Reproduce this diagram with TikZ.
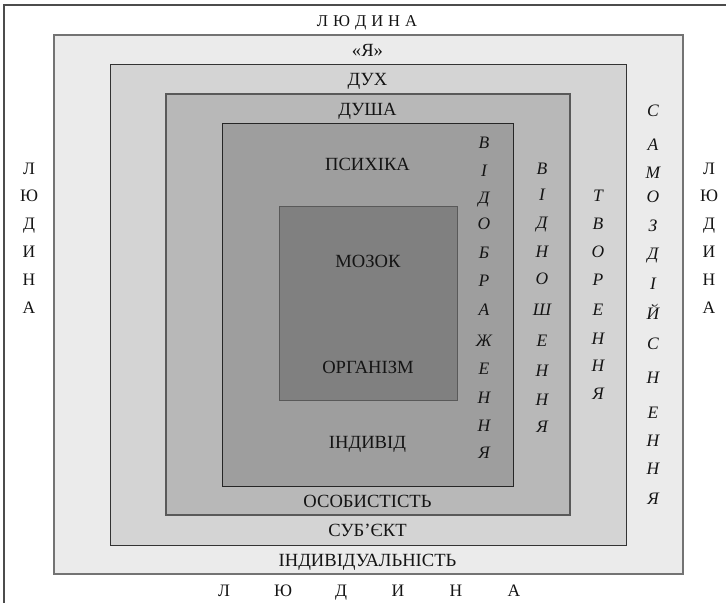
\documentclass[tikz,border=0pt]{standalone}
\usepackage{fontspec}
\setmainfont{Liberation Serif}
\begin{document}
\begin{tikzpicture}[x=1pt,y=-1pt,
  frame/.style={draw=black!70,line width=1.2pt},
  lvl1/.style={fill=black!8,draw=black!55,line width=1.2pt},
  lvl2/.style={fill=black!17,draw=black!80,line width=1pt},
  lvl3/.style={fill=black!28,draw=black!65,line width=1.2pt},
  lvl4/.style={fill=black!38,draw=black!85,line width=1pt},
  lvl5/.style={fill=black!50,draw=black!65,line width=1pt},
  lab/.style={font=\fontsize{18.6}{20}\selectfont,text=black!92,anchor=base,inner sep=0pt},
  vl/.style={font=\fontsize{17.5}{20}\selectfont,text=black!92,anchor=base,inner sep=0pt},
  vi/.style={font=\fontsize{17.5}{20}\selectfont\itshape,text=black!92,anchor=base,inner sep=0pt}]
\useasboundingbox (0,0) rectangle (726,603);
% outer frame (top and left edges)
\draw[frame] (726,5) -- (4,5) -- (4,603);
% nested boxes
\draw[lvl1] (54,35) rectangle (683,574);
\draw[lvl2] (110,64) rectangle (626,545);
\draw[lvl3] (166,94) rectangle (570,515);
\draw[lvl4] (222,123) rectangle (513,486);
\draw[lvl5] (279,206) rectangle (457,400);
% top word
\node[vl,font=\fontsize{16.5}{20}\selectfont] (top) at (367,26) {Л\hspace{5pt}Ю\hspace{5pt}Д\hspace{5pt}И\hspace{5pt}Н\hspace{5pt}А};
% level labels
\node[lab] (ya) at (367.5,56) {«Я»};
\node[lab] (dukh) at (367.5,85.5) {ДУХ};
\node[lab] (dusha) at (367.5,115) {ДУША};
\node[lab] (psy) at (367.5,170.5) {ПСИХІКА};
\node[lab] (mozok) at (368,267.5) {МОЗОК};
\node[lab] (org) at (368,373.5) {ОРГАНІЗМ};
\node[lab] (indv) at (367.5,448.5) {ІНДИВІД};
\node[lab] (osob) at (367.5,507.5) {ОСОБИСТІСТЬ};
\node[lab] (subj) at (367.5,536.5) {СУБ’ЄКТ};
\node[lab] (indiv) at (367.5,566.5) {ІНДИВІДУАЛЬНІСТЬ};
% bottom word
\foreach \l/\x [count=\i] in {Л/224,Ю/283,Д/341,И/398,Н/456,А/514}
  \node[vl] (bot\i) at (\x,596) {\l};
% left and right vertical words
\foreach \l/\y [count=\i] in {Л/168,Ю/195,Д/223,И/251,Н/279,А/307}{
  \node[vl] (left\i) at (29,\y+6) {\l};
  \node[vl] (right\i) at (709,\y+6) {\l};
}
% italic vertical columns
\foreach \l/\y [count=\i] in {В/142,І/170,Д/197,О/223,Б/252,Р/280,А/309,Ж/340,Е/368,Н/397,Н/425,Я/452}
  \node[vi] (ca\i) at (484,\y+6) {\l};
\foreach \l/\y [count=\i] in {В/168,І/194,Д/222,Н/251,О/278,Ш/309,Е/340,Н/370,Н/399,Я/426}
  \node[vi] (cb\i) at (542,\y+6) {\l};
\foreach \l/\y [count=\i] in {Т/195,В/223,О/251,Р/279,Е/309,Н/338,Н/365,Я/393}
  \node[vi] (cc\i) at (598,\y+6) {\l};
\foreach \l/\y [count=\i] in {С/110,А/144,М/172,О/196,З/225,Д/253,І/283,Й/313,С/343,Н/377,Е/412,Н/440,Н/468,Я/498}
  \node[vi] (cd\i) at (653,\y+6) {\l};
\end{tikzpicture}
\end{document}
